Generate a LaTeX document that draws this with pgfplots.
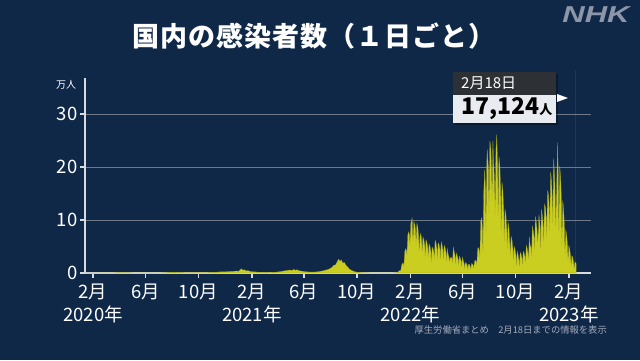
\documentclass[border=0pt]{standalone}
\usepackage{pgfplots}
\pgfplotsset{compat=1.18}
\usepackage{fontspec}
\usepackage{pdfrender}
\setmainfont{Noto Sans CJK JP}
\newfontfamily\nhkfont{Liberation Sans}
\definecolor{bg}{RGB}{16,40,72}
\definecolor{axiscol}{RGB}{214,218,226}
\definecolor{gridcol}{RGB}{110,122,140}
\definecolor{yel}{RGB}{202,206,32}
\definecolor{yeldark}{RGB}{150,154,24}
\definecolor{nhkgray}{RGB}{140,150,168}
\definecolor{notegray}{RGB}{165,172,186}
\definecolor{boxhead}{RGB}{45,48,52}
\definecolor{boxbody}{RGB}{232,236,240}
\begin{document}
\begin{tikzpicture}[x=1pt,y=1pt]
\useasboundingbox (0,0) rectangle (640,360);
\fill[bg] (0,0) rectangle (640,360);
\draw[color={rgb,255:red,32;green,54;blue,88}, line width=0.8pt] (575,87) -- (575,290);
\begin{axis}[
  at={(85pt,87pt)}, anchor=south west,
  scale only axis, width=506pt, height=195pt,
  xmin=12.6, xmax=1178, ymin=0, ymax=36.8,
  axis x line=bottom, axis y line=left,
  axis line style={-, draw=axiscol, line width=1.3pt},
  tick style={draw=axiscol, line width=1.3pt},
  major tick length=5pt, tick align=outside,
  ytick={0,10,20,30},
  ymajorgrids, grid style={draw=gridcol, line width=1pt},
  xtick={31,152,274,397,517,639,762,882,1004,1127},
  xticklabels={2月\\2020年,6月,10月,2月\\2021年,6月,10月,2月\\2022年,6月,10月,2月\\2023年},
  xticklabel style={align=center, anchor=north, font=\fontsize{18.5}{23}\selectfont, text=white, yshift=-2pt},
  yticklabel style={font=\fontsize{18.5}{18.5}\selectfont, text=white, xshift=1pt},
  /pgf/number format/assume math mode=true,
  clip=false,
]
\addplot[fill=yel, draw=yeldark, line width=0.2pt] coordinates {
(15,0) (45,0.001) (60,0.003) (75,0.02) (85,0.04) (95,0.06) (101,0.07) (108,0.06) (115,0.04)
(125,0.02) (135,0.01) (150,0.004) (165,0.005) (180,0.01) (190,0.03) (200,0.07) (207,0.1)
(213,0.14) (219,0.16) (226,0.12) (235,0.09) (245,0.06) (260,0.05) (275,0.05) (290,0.06)
(305,0.1) (315,0.16) (325,0.22) (335,0.22) (345,0.28) (355,0.32) (362,0.38) (366,0.32)
(370,0.6) (373,0.79) (376,0.55) (380,0.6) (384,0.4) (388,0.45) (395,0.25) (405,0.22)
(415,0.12) (425,0.1) (440,0.12) (455,0.18) (465,0.3) (475,0.45) (483,0.55) (490,0.5)
(493,0.7) (497,0.5) (500,0.62) (505,0.45) (512,0.35) (520,0.25) (530,0.18) (540,0.17)
(550,0.25) (560,0.4) (567,0.55) (572,0.65) (575,0.77) (578,0.9) (582,1.1) (585,1.45)
(589,1.5) (592,1.9) (595,2.4) (597,2.6) (600,2.2) (603,2.5) (606,1.9) (610,2.0)
(614,1.4) (617,1.2) (621,0.8) (624,0.6) (628,0.45) (632,0.3) (639,0.15) (650,0.06)
(665,0.03) (680,0.02) (700,0.015) (720,0.02) (728,0.05)
(733,0.08) (735,0.35) (737,0.45) (739,0.4)
(740,0.6) (742,1.5) (744,1.9) (746,1.7)
(747,1.3) (749,4.0) (751,4.6) (753,4.3)
(754,3.4) (756,7.1) (758,7.8) (760,7.2)
(761,5.2) (763,9.4) (765,10.0) (766,10.4)
(768,6.0) (770,9.7) (772,9.2) (774,8.0)
(775,5.5) (777,9.4) (779,8.7) (781,7.1)
(782,4.2) (784,6.8) (786,7.5) (788,6.2)
(789,4.0) (791,6.8) (793,6.3) (795,5.3)
(796,3.2) (798,6.3) (800,5.8) (802,4.8)
(803,3.0) (805,5.5) (807,5.1) (809,4.2)
(810,2.0) (812,4.9) (814,4.6) (816,4.0)
(817,2.6) (819,6.2) (821,5.7) (823,4.6)
(824,2.8) (826,5.7) (828,5.4) (830,4.5)
(831,2.7) (833,5.9) (835,5.3) (837,4.3)
(838,2.6) (840,5.2) (842,4.8) (844,3.9)
(845,2.2) (847,4.6) (849,3.5) (851,3.0)
(852,2.2) (854,2.8) (856,3.0) (858,2.7)
(859,1.9) (861,4.9) (863,4.0) (865,3.2)
(866,1.7) (868,3.8) (870,3.3) (872,2.6)
(873,1.5) (875,3.2) (877,2.8) (879,2.2)
(880,1.2) (882,3.0) (884,2.3) (886,1.7)
(887,0.9) (889,2.0) (891,1.8) (893,1.4)
(894,0.7) (896,1.7) (898,1.6) (900,1.3)
(901,0.7) (903,1.8) (905,1.7) (907,1.4)
(908,0.9) (910,2.3) (912,2.4) (914,2.1)
(915,1.6) (917,4.6) (919,4.8) (921,4.0)
(922,3.0) (924,9.7) (926,10.5) (928,8.6)
(929,4.0) (931,15.2) (933,19.5) (935,16.0)
(936,8.0) (938,20.9) (939,23.3) (942,19.5)
(943,11.3) (945,24.9) (947,23.8) (949,19.8)
(950,13.6) (952,25.0) (954,20.5) (956,17.0)
(957,11.0) (959,23.2) (961,26.1) (963,20.0)
(964,10.8) (966,22.0) (968,20.5) (970,15.5)
(971,8.0) (973,17.1) (975,15.6) (977,11.8)
(978,6.0) (980,12.0) (982,11.1) (984,8.3)
(985,4.6) (987,9.6) (989,8.5) (991,5.5)
(992,3.4) (994,6.9) (996,6.3) (998,4.6)
(999,2.5) (1001,5.0) (1003,4.5) (1005,3.3)
(1006,1.4) (1008,4.1) (1010,3.5) (1012,2.4)
(1013,1.3) (1015,3.9) (1017,3.6) (1019,2.8)
(1020,1.6) (1022,4.1) (1024,3.8) (1026,3.0)
(1027,2.1) (1029,5.2) (1031,4.7) (1033,3.6)
(1034,2.7) (1036,6.8) (1038,5.2) (1040,4.8)
(1041,3.2) (1043,8.9) (1045,8.0) (1047,6.7)
(1048,4.4) (1050,10.7) (1052,9.6) (1054,7.8)
(1055,5.8) (1057,8.0) (1058,11.0) (1061,8.8)
(1062,4.6) (1064,12.0) (1066,10.8) (1068,8.6)
(1069,6.0) (1071,13.0) (1073,12.4) (1075,10.3)
(1076,6.9) (1078,15.5) (1080,14.9) (1082,12.0)
(1083,8.0) (1085,19.1) (1087,17.6) (1089,14.0)
(1090,9.4) (1092,21.6) (1094,18.5) (1096,13.3)
(1097,8.9) (1099,16.6) (1101,24.6) (1103,17.0)
(1104,7.6) (1106,20.1) (1108,18.2) (1110,13.5)
(1111,5.5) (1113,13.7) (1115,12.0) (1117,8.4)
(1118,3.5) (1120,8.2) (1122,7.1) (1124,5.1)
(1125,2.2) (1127,5.2) (1129,4.5) (1131,3.2)
(1132,1.3) (1134,3.3) (1136,2.9) (1138,2.0)
(1139,0.8) (1141,2.1) (1143,1.9) (1144,1.7)
} \closedcycle;
\end{axis}
% unit label
\node[text=white, font=\fontsize{10}{10}\selectfont] at (66,275.5) {万人};
% title with outline
\node[text=white, font=\fontsize{27}{27}\selectfont\bfseries\addfontfeatures{LetterSpace=3.5}] at (314,324) {\textpdfrender{TextRenderingMode=FillStroke, LineWidth=1.5, LineJoinStyle=Round}{\special{pdf:literal direct 0 0 0 RG}国内の感染者数（１日ごと）}};
% NHK logo
\node[text=nhkgray, font=\nhkfont\fontsize{23}{23}\selectfont\bfseries\itshape] at (596,345.5) {\scalebox{1.35}[1]{NHK}};
% annotation box
\fill[black, opacity=0.35] (455,235) rectangle (558,286);
\fill[boxhead] (453,265) rectangle (556,288);
\fill[boxbody] (453,237) rectangle (556,265);
\node[anchor=west, text=white, font=\fontsize{15}{15}\selectfont, inner sep=0pt] at (461,277) {2月18日};
\node[anchor=west, text=black, font=\fontsize{23}{23}\selectfont\bfseries, inner sep=0pt] at (461,251) {17,124\fontsize{13}{13}\selectfont 人};
\fill[white] (557,266) -- (568,262) -- (557,258) -- cycle;
% footnote
\node[anchor=east, text=notegray, font=\fontsize{9.3}{9.3}\selectfont, inner sep=0pt] at (607,30) {厚生労働省まとめ　2月18日までの情報を表示};
\end{tikzpicture}
\end{document}
